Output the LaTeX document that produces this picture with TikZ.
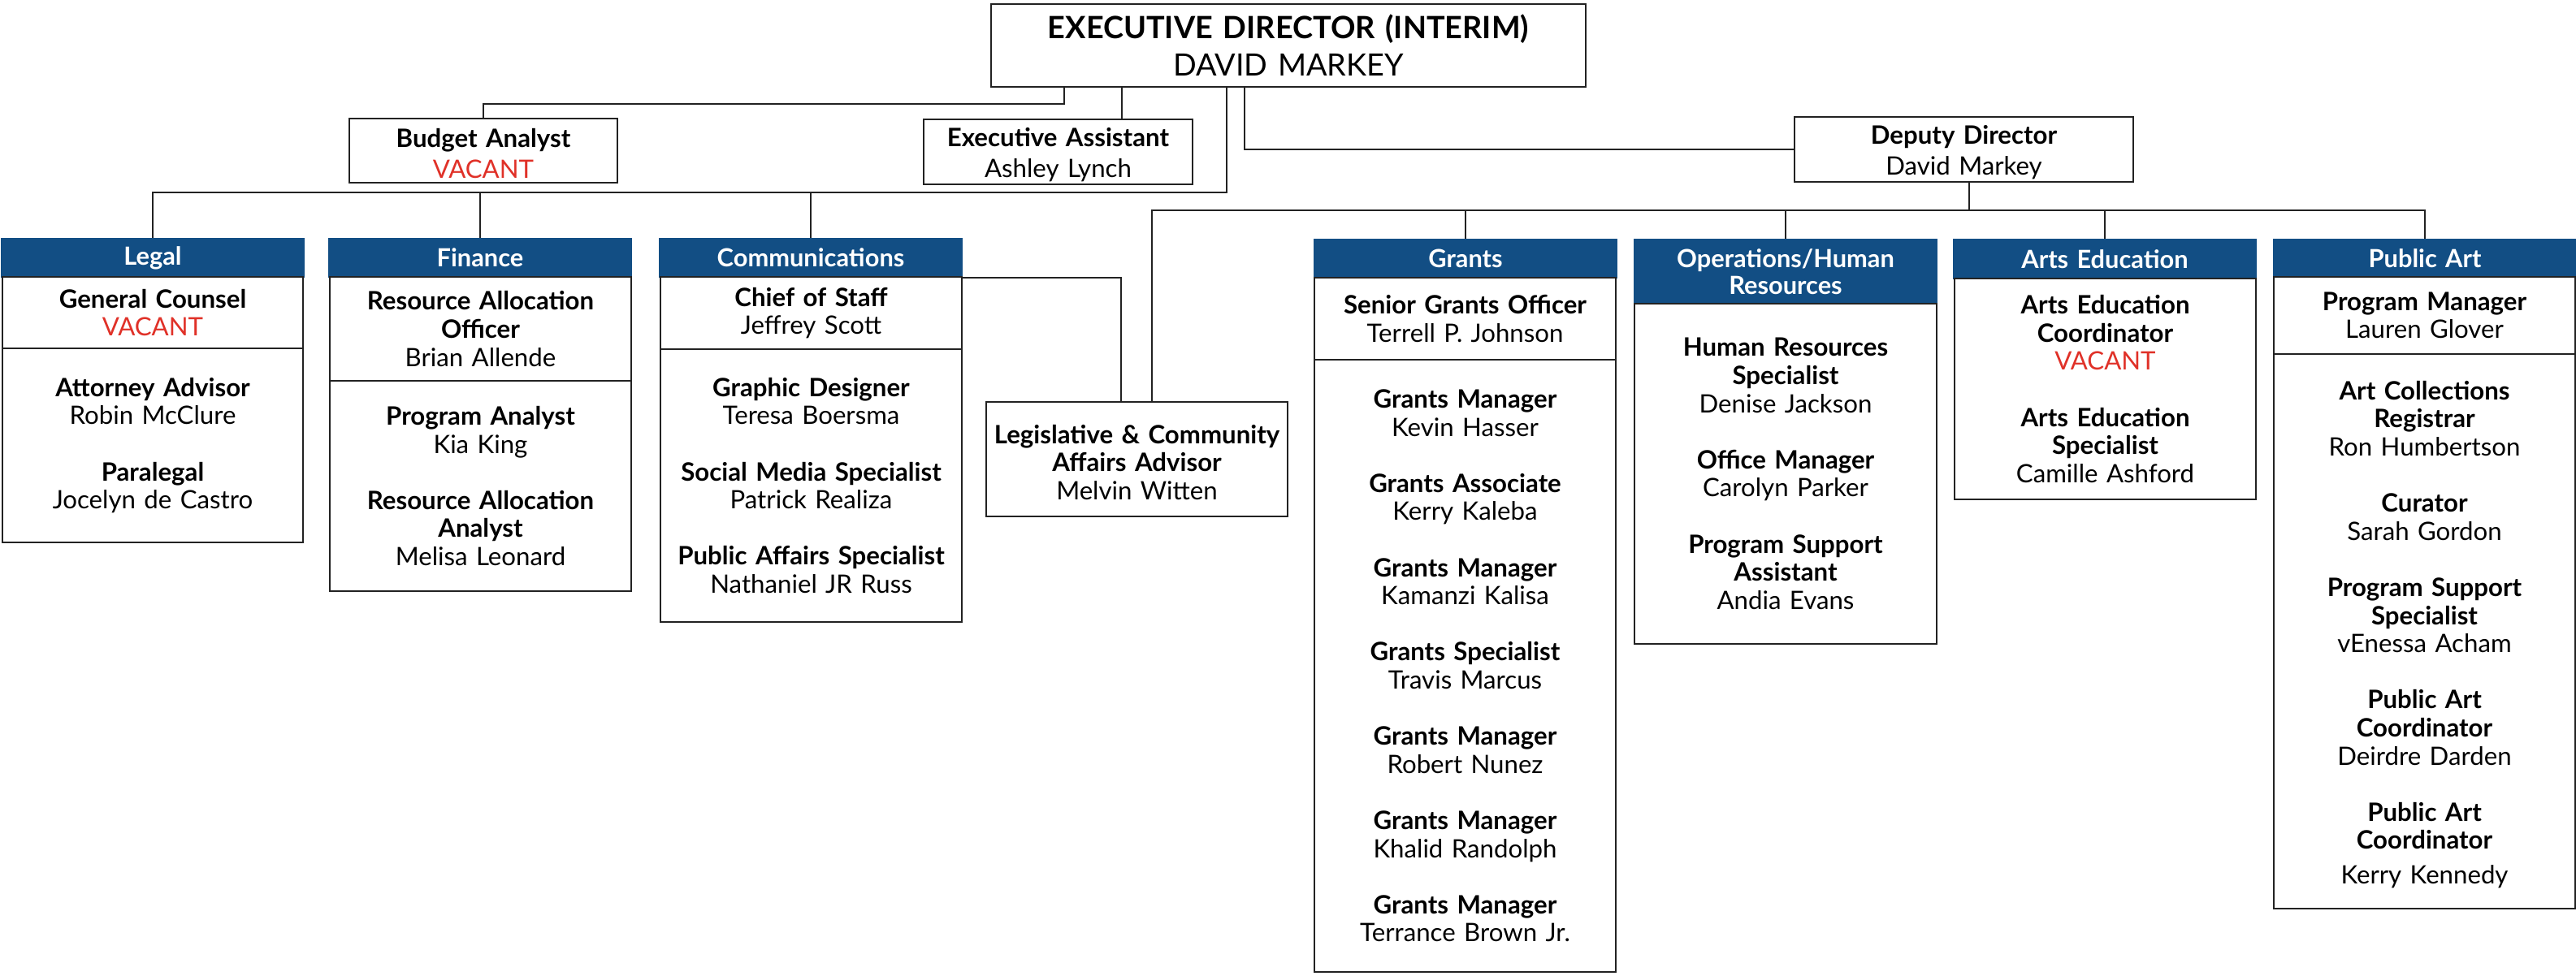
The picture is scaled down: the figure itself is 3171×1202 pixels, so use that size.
\documentclass[tikz,border=0pt]{standalone}
\usepackage{fontspec}
\setmainfont{Lato}
\usetikzlibrary{calc}
\definecolor{hblue}{RGB}{18,78,132}
\definecolor{vred}{RGB}{224,49,40}
\definecolor{lnc}{RGB}{34,34,34}
\newcommand{\jt}[1]{\textbf{#1}}
\newcommand{\vac}{\textcolor{vred}{VACANT}}
\newcommand{\gp}{\\[17.3pt]}
\newcommand{\tstr}{\rule{0pt}{15.5pt}}
% name, x1, y1, x2, y2, style, text
\newcommand{\bx}[7]{%
  \pgfmathsetmacro{\obw}{(#4-#2)*0.5}%
  \pgfmathsetmacro{\obh}{(#5-#3)*0.5}%
  \node[#6, minimum width=\obw pt, minimum height=\obh pt, text width=\obw pt] (#1) at ({(#2+#4)/2},{(#3+#5)/2}) {#7};%
}
\tikzset{
  hdr/.style={fill=hblue, draw=hblue, line width=1pt, text=white, inner sep=0pt, align=center,
    font=\bfseries\fontsize{15.4}{16.5}\selectfont},
  sect/.style={draw=lnc, line width=1.3pt, fill=white, inner sep=0pt, align=center,
    font=\fontsize{15.6}{17.3}\selectfont},
  topbox/.style={draw=lnc, line width=1.3pt, fill=white, inner sep=0pt, align=center,
    font=\fontsize{15.6}{19}\selectfont},
  conn/.style={draw=lnc, line width=1pt},
}
\begin{document}
\begin{tikzpicture}[x=0.5pt,y=-0.5pt]
\useasboundingbox (0,0) rectangle (3171,1202);
% top level
\bx{exec}{1220}{5}{1952}{107}{topbox, font=\fontsize{18.9}{23}\selectfont}{\jt{EXECUTIVE DIRECTOR (INTERIM)}\\DAVID MARKEY}
\bx{budget}{430}{146}{760}{225}{topbox}{\tstr\jt{Budget Analyst}\\\vac}
\bx{ea}{1137}{147}{1468}{227}{topbox}{\tstr\jt{Executive Assistant}\\Ashley Lynch}
\bx{dep}{2209}{144}{2626}{224}{topbox}{\tstr\jt{Deputy Director}\\David Markey}
% Legal
\bx{legH}{2}{294}{374}{341}{hdr}{Legal}
\bx{legA}{3}{341}{373}{429}{sect}{\jt{General Counsel}\\\vac}
\bx{legB}{3}{429}{373}{668}{sect}{\jt{Attorney Advisor}\\Robin McClure\gp\jt{Paralegal}\\Jocelyn de Castro}
% Finance
\bx{finH}{405}{294}{777}{341}{hdr}{Finance}
\bx{finA}{406}{341}{777}{469}{sect}{\jt{Resource Allocation}\\\jt{Officer}\\Brian Allende}
\bx{finB}{406}{469}{777}{728}{sect}{\jt{Program Analyst}\\Kia King\gp\jt{Resource Allocation}\\\jt{Analyst}\\Melisa Leonard}
% Communications
\bx{comH}{812}{294}{1184}{341}{hdr}{Communications}
\bx{comA}{813}{341}{1184}{430}{sect}{\jt{Chief of Staff}\\Jeffrey Scott}
\bx{comB}{813}{430}{1184}{766}{sect}{\jt{Graphic Designer}\\Teresa Boersma\gp\jt{Social Media Specialist}\\Patrick Realiza\gp\jt{Public Affairs Specialist}\\Nathaniel JR Russ}
% Legislative
\bx{leg}{1214}{495}{1585}{636}{sect}{\tstr\jt{Legislative \& Community}\\\jt{Affairs Advisor}\\Melvin Witten}
% Grants
\bx{graH}{1618}{295}{1990}{342}{hdr}{Grants}
\bx{graA}{1618}{342}{1989}{443}{sect}{\jt{Senior Grants Officer}\\Terrell P. Johnson}
\bx{graB}{1618}{443}{1989}{1197}{sect}{\jt{Grants Manager}\\Kevin Hasser\gp\jt{Grants Associate}\\Kerry Kaleba\gp\jt{Grants Manager}\\Kamanzi Kalisa\gp\jt{Grants Specialist}\\Travis Marcus\gp\jt{Grants Manager}\\Robert Nunez\gp\jt{Grants Manager}\\Khalid Randolph\gp\jt{Grants Manager}\\Terrance Brown Jr.}
% Operations
\bx{opsH}{2012}{295}{2384}{374}{hdr}{Operations/Human\\Resources}
\bx{opsB}{2012}{374}{2384}{793}{sect}{\jt{Human Resources}\\\jt{Specialist}\\Denise Jackson\gp\jt{Office Manager}\\Carolyn Parker\gp\jt{Program Support}\\\jt{Assistant}\\Andia Evans}
% Arts Education
\bx{aeH}{2405}{295}{2777}{343}{hdr}{Arts Education}
\bx{aeB}{2406}{343}{2777}{615}{sect}{\jt{Arts Education}\\\jt{Coordinator}\\\vac\gp\jt{Arts Education}\\\jt{Specialist}\\Camille Ashford}
% Public Art
\bx{paH}{2799}{295}{3171}{341}{hdr}{Public Art}
\bx{paA}{2799}{341}{3170}{436}{sect}{\jt{Program Manager}\\Lauren Glover}
\bx{paB}{2799}{436}{3170}{1119}{sect}{\tstr\jt{Art Collections}\\\jt{Registrar}\\Ron Humbertson\gp\jt{Curator}\\Sarah Gordon\gp\jt{Program Support}\\\jt{Specialist}\\vEnessa Acham\gp\jt{Public Art}\\\jt{Coordinator}\\Deirdre Darden\gp\jt{Public Art}\\\jt{Coordinator}\\[4pt]Kerry Kennedy}
% junction coordinates
\coordinate (jb) at (1310,128);
\coordinate (jea) at (1381,0);
\coordinate (busL) at (1510,237);
\coordinate (jd) at (1532,187);
\coordinate (busR) at (2424,259);
\coordinate (jleg) at (1418,259);
\coordinate (jcl) at (1380,341);
% connectors
\draw[conn] (exec.south -| jb) -- (jb) -| (budget.north);
\draw[conn] (exec.south -| jea) -- (ea.north -| jea);
\draw[conn] (exec.south -| busL) -- (busL) -| (legH.north);
\draw[conn] (finH.north) -- (finH.north |- busL);
\draw[conn] (comH.north) -- (comH.north |- busL);
\draw[conn] (exec.south -| jd) |- (dep.west);
\draw[conn] (dep.south -| busR) -- (busR);
\draw[conn] (leg.north -| jleg) -- (jleg) -| (paH.north);
\draw[conn] (graH.north) -- (graH.north |- busR);
\draw[conn] (opsH.north) -- (opsH.north |- busR);
\draw[conn] (aeH.north) -- (aeH.north |- busR);
\draw[conn] (comH.south east) -| (leg.north -| jcl);
\end{tikzpicture}
\end{document}
